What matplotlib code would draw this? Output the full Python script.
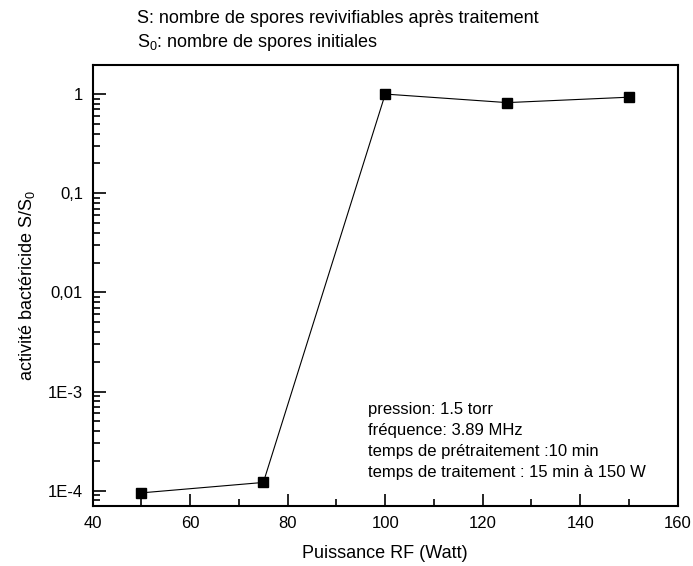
import numpy as np
import matplotlib
matplotlib.use("Agg")
import matplotlib.pyplot as plt
from matplotlib.ticker import FixedLocator, FixedFormatter, LogLocator, NullFormatter, MultipleLocator

plt.rcParams['font.family'] = ['Liberation Sans', 'DejaVu Sans']
plt.rcParams['mathtext.fontset'] = 'custom'
plt.rcParams['mathtext.rm'] = 'Liberation Sans'
plt.rcParams['mathtext.it'] = 'Liberation Sans'

# data
puissance_w = [50, 75, 100, 125, 150]
activite = [9.5e-5, 1.21e-4, 1.0, 0.82, 0.93]

ytick_vals = [1e-4, 1e-3, 1e-2, 1e-1, 1]
ytick_labels = ["1E-4", "1E-3", "0,01", "0,1", "1"]

conditions = [
    "pression: 1.5 torr",
    "fréquence: 3.89 MHz",
    "temps de prétraitement :10 min",
    "temps de traitement : 15 min à 150 W",
]

fig = plt.figure(figsize=(6.93, 5.66), dpi=100)
ax = fig.add_axes([0.1338, 0.106, 0.978 - 0.1338, 0.885 - 0.106])

ax.plot(puissance_w, activite, color='black', lw=0.8, marker='s', ms=7,
        markerfacecolor='black', markeredgecolor='black')

ax.set_yscale('log')
ax.set_xlim(40, 160)
ax.set_ylim(7e-5, 1.96)

ax.xaxis.set_major_locator(MultipleLocator(20))
ax.xaxis.set_minor_locator(MultipleLocator(10))
ax.yaxis.set_major_locator(FixedLocator(ytick_vals))
ax.yaxis.set_major_formatter(FixedFormatter(ytick_labels))
ax.yaxis.set_minor_locator(LogLocator(base=10, subs=np.arange(2, 10)))
ax.yaxis.set_minor_formatter(NullFormatter())

ax.tick_params(which='both', direction='in', top=False, right=False, width=1.2)
ax.tick_params(which='major', length=9, labelsize=12, pad=7)
ax.tick_params(which='minor', length=5)
for s in ax.spines.values():
    s.set_linewidth(1.5)

ax.set_xlabel("Puissance RF (Watt)", fontsize=13, labelpad=10)
ax.set_ylabel("activité bactéricide S/S$_0$", fontsize=13, labelpad=8)

fig.text(0.198, 0.968, "S: nombre de spores revivifiables après traitement",
         fontsize=13, va='center', ha='left')
fig.text(0.198, 0.925, "S$_0$: nombre de spores initiales",
         fontsize=13, va='center', ha='left')

ax.text(0.47, 0.147, "\n".join(conditions), transform=ax.transAxes,
        fontsize=12, va='center', ha='left', linespacing=1.5)

fig.savefig("out.png", dpi=100)
